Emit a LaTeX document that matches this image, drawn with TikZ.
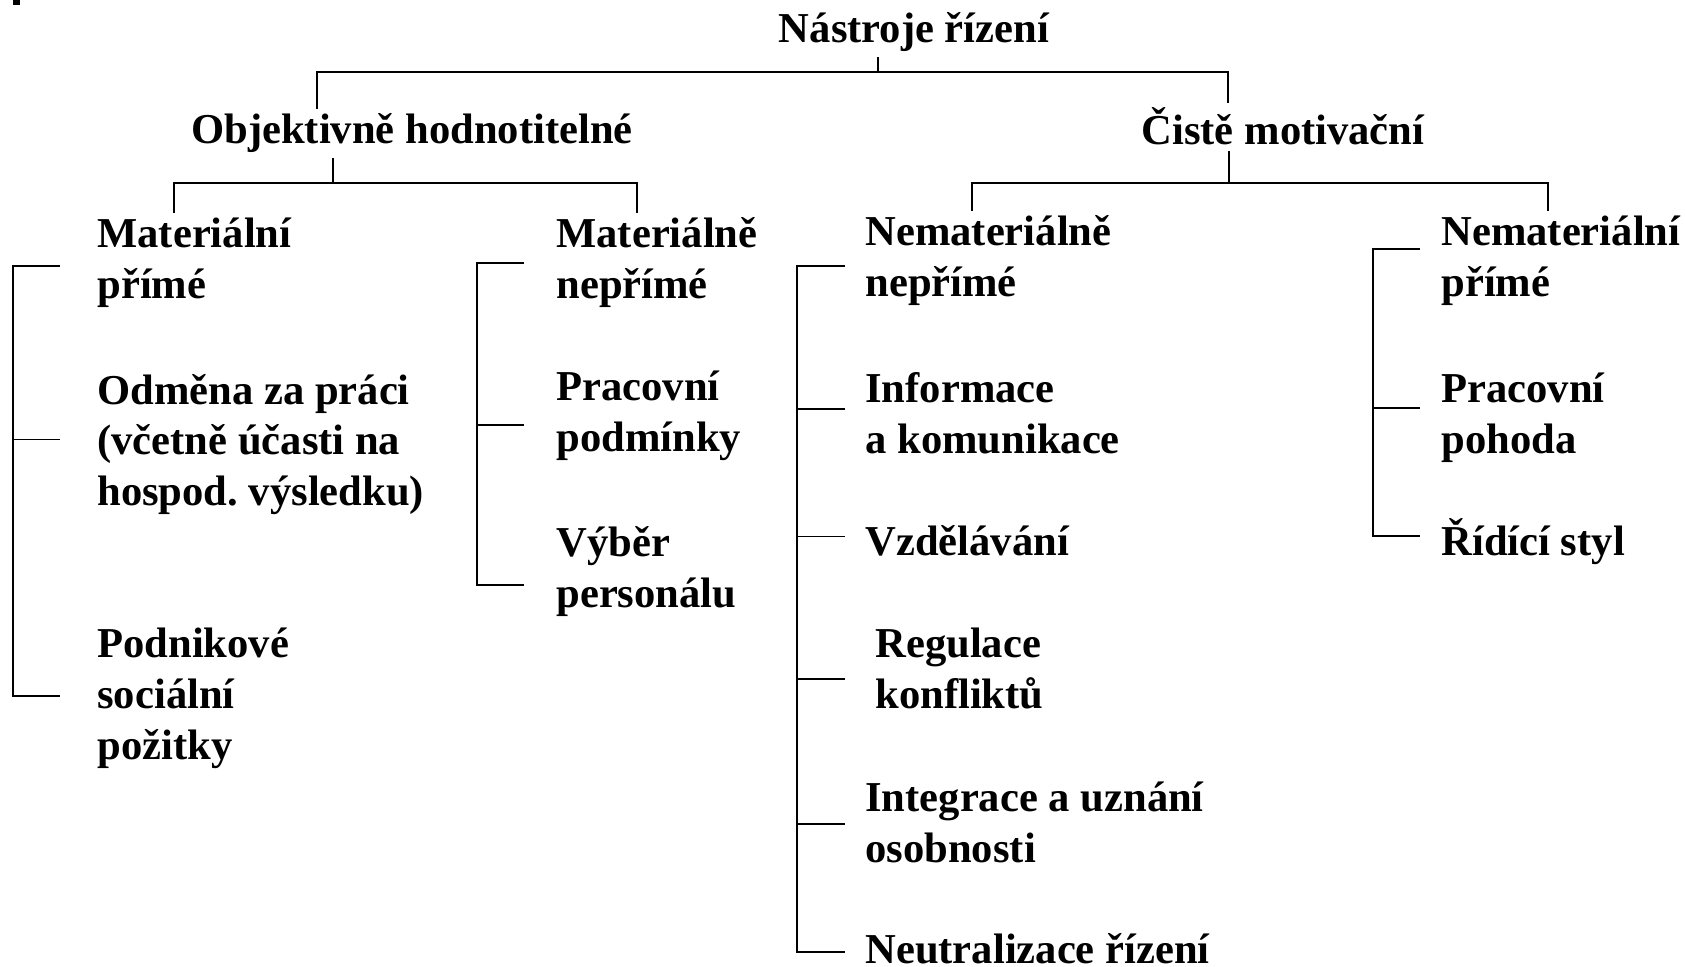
\documentclass[tikz,border=0pt]{standalone}
\usepackage{fontspec}
\setmainfont{Liberation Serif}
\usepackage{tikz}
\usetikzlibrary{calc}
\tikzset{
  toplabel/.style={font=\bfseries\fontsize{21.3}{25.5}\selectfont,inner sep=2.5pt,anchor=base},
  itemlabel/.style={font=\bfseries\fontsize{21.3}{25.5}\selectfont,align=left,inner sep=2.5pt,anchor=base west},
  treeline/.style={line width=0.8pt,color=black}
}

\begin{document}
\begin{tikzpicture}[x=0.5pt,y=-0.5pt]
  \useasboundingbox (0,0) rectangle (1685,967);
  \fill (13,0) rectangle (20,5);

  %% top levels
  \node[toplabel] (title) at (914,43) {Nástroje řízení};
  \node[toplabel] (obj) at (412,144) {Objektivně hodnotitelné};
  \node[toplabel] (cis) at (1283,145) {Čistě motivační};

  %% materialni (placed at last line)
  \node[itemlabel] (mp) at (92,299) {Materiální\\přímé};
  \node[itemlabel] (odm) at (92,506) {Odměna za práci\\(včetně účasti na\\hospod.\ výsledku)};
  \node[itemlabel] (pod) at (92,759) {Podnikové\\sociální\\požitky};
  \node[itemlabel] (mn) at (551,299) {Materiálně\\nepřímé};
  \node[itemlabel] (prp) at (551,452) {Pracovní\\podmínky};
  \node[itemlabel] (vyb) at (551,607) {Výběr\\personálu};

  %% nematerialni
  \node[itemlabel] (nn) at (860,297) {Nemateriálně\\nepřímé};
  \node[itemlabel] (inf) at (860,454) {Informace\\a komunikace};
  \node[itemlabel] (vzd) at (860,555) {Vzdělávání};
  \node[itemlabel] (reg) at (870,708) {Regulace\\konfliktů};
  \node[itemlabel] (int) at (860,862) {Integrace a uznání\\osobnosti};
  \node[itemlabel] (neu) at (860,963) {Neutralizace řízení};
  \node[itemlabel] (np) at (1436,297) {Nemateriální\\přímé};
  \node[itemlabel] (pph) at (1436,454) {Pracovní\\pohoda};
  \node[itemlabel] (rid) at (1436,555) {Řídící styl};

  %% junctions
  \coordinate (j0) at (878,72);
  \coordinate (j0l) at (317,72);
  \coordinate (j0r) at (1228,72);
  \coordinate (j1) at (333,183);
  \coordinate (j1l) at (174,183);
  \coordinate (j1r) at (637,183);
  \coordinate (j2) at (1229,183);
  \coordinate (j2l) at (972,183);
  \coordinate (j2r) at (1548,183);
  \coordinate (sA) at (13,0);   \coordinate (tA) at (60,0);
  \coordinate (sB) at (477,0);  \coordinate (tB) at (524,0);
  \coordinate (sC) at (797,0);  \coordinate (tC) at (845,0);
  \coordinate (sD) at (1373,0); \coordinate (tD) at (1420,0);

  %% tree
  \draw[treeline] (title.south -| j0) -- (j0);
  \draw[treeline] (obj.north -| j0l) -- (j0l) -- (j0r) -- (cis.north -| j0r);
  \draw[treeline] (obj.south -| j1) -- (j1);
  \draw[treeline] (mp.north -| j1l) -- (j1l) -- (j1r) -- (mn.north -| j1r);
  \draw[treeline] (cis.south -| j2) -- (j2);
  \draw[treeline] (nn.north -| j2l) -- (j2l) -- (j2r) -- (np.north -| j2r);

  %% brackets
  \draw[treeline] ($(mp.west -| tA)+(0,3)$) -- ($(mp.west -| sA)+(0,3)$)
    -- ($(pod.west -| sA)+(0,-2)$) -- ($(pod.west -| tA)+(0,-2)$);
  \draw[treeline] ($(odm.west -| sA)+(0,-5)$) -- ($(odm.west -| tA)+(0,-5)$);
  \draw[treeline] (mn.west -| tB) -- (mn.west -| sB)
    -- ($(vyb.west -| sB)+(0,14)$) -- ($(vyb.west -| tB)+(0,14)$);
  \draw[treeline] ($(prp.west -| sB)+(0,9)$) -- ($(prp.west -| tB)+(0,9)$);
  \draw[treeline] ($(nn.west -| tC)+(0,5)$) -- ($(nn.west -| sC)+(0,5)$)
    -- ($(neu.west -| sC)+(0,4)$) -- ($(neu.west -| tC)+(0,4)$);
  \foreach \n/\d in {inf/-5,vzd/-4,reg/11,int/2}
    \draw[treeline] ($(\n.west -| sC)+(0,\d)$) -- ($(\n.west -| tC)+(0,\d)$);
  \draw[treeline] ($(np.west -| tD)+(0,-12)$) -- ($(np.west -| sD)+(0,-12)$)
    -- ($(rid.west -| sD)+(0,-5)$) -- ($(rid.west -| tD)+(0,-5)$);
  \draw[treeline] ($(pph.west -| sD)+(0,-10)$) -- ($(pph.west -| tD)+(0,-10)$);
\end{tikzpicture}
\end{document}
